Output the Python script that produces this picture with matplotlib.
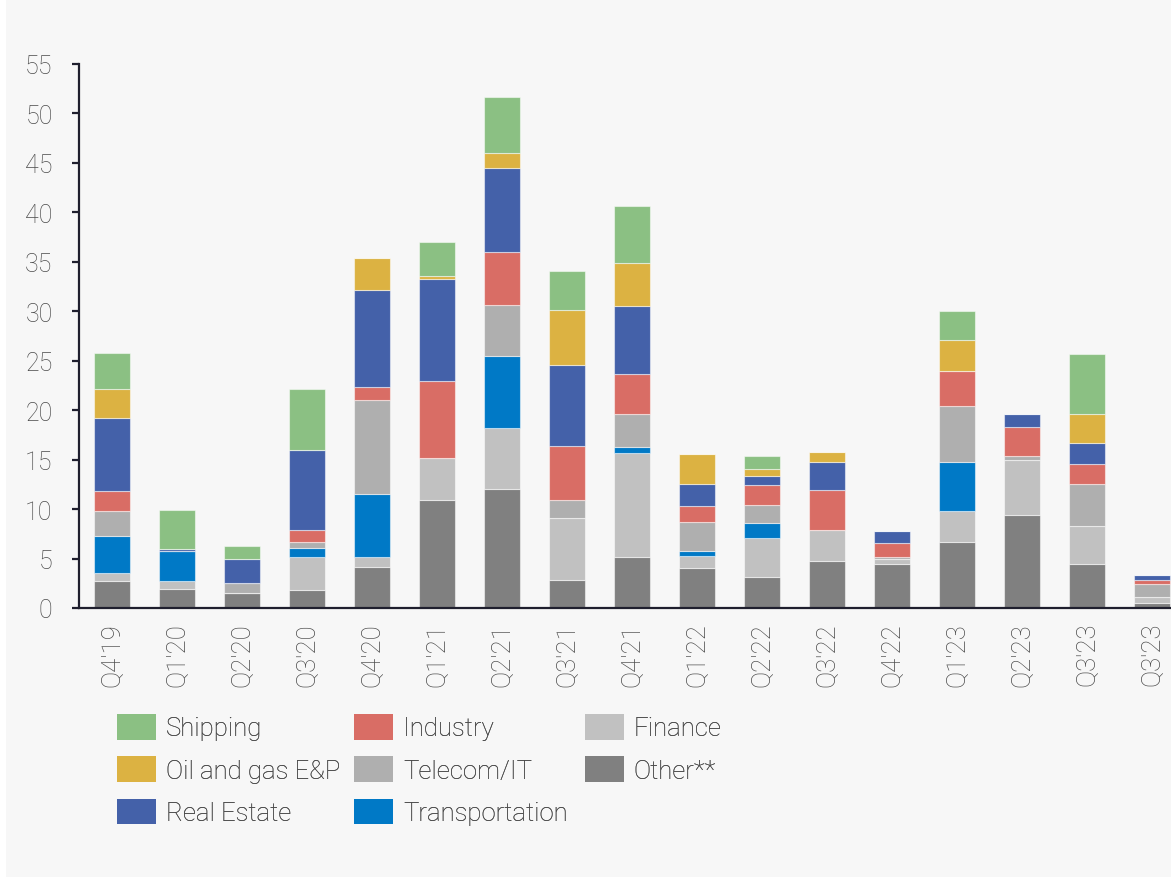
import matplotlib
matplotlib.use("Agg")
import matplotlib.pyplot as plt
from matplotlib.patches import Patch, Rectangle
import numpy as np

# ------------------------------------------------------------
# DATOS (aproximados)
# ------------------------------------------------------------
trimestres = ["Q4'19", "Q1'20", "Q2'20", "Q3'20", "Q4'20", "Q1'21", "Q2'21", "Q3'21",
              "Q4'21", "Q1'22", "Q2'22", "Q3'22", "Q4'22", "Q1'23", "Q2'23", "Q3'23", "Q3'23"]

other          = [2.70, 1.92, 1.49, 1.82, 4.12, 10.91, 12.03, 2.79, 5.16, 4.08, 3.17, 4.78, 4.42, 6.67, 9.37, 4.45, 0.54]
finance        = [0.81, 0.84, 0.00, 3.37, 1.01, 4.22, 6.16, 6.28, 10.52, 1.18, 3.88, 3.11, 0.53, 3.14, 5.59, 3.84, 0.54]
transportation = [3.77, 2.97, 0.00, 0.91, 6.38, 0.00, 7.32, 0.00, 0.60, 0.50, 1.54, 0.00, 0.00, 4.98, 0.00, 0.00, 0.00]
telecom        = [2.53, 0.00, 1.01, 0.54, 9.50, 0.00, 5.13, 1.84, 3.34, 2.97, 1.82, 0.00, 0.21, 5.63, 0.41, 4.25, 1.35]
industry       = [1.99, 0.00, 0.00, 1.25, 1.38, 7.80, 5.36, 5.44, 4.04, 1.63, 2.03, 4.01, 1.41, 3.51, 2.90, 2.02, 0.37]
real_estate    = [7.44, 0.24, 2.45, 8.11, 9.77, 10.35, 8.53, 8.25, 6.84, 2.20, 0.91, 2.89, 1.19, 0.00, 1.35, 2.09, 0.51]
oil_gas        = [2.90, 0.00, 0.00, 0.00, 3.21, 0.31, 1.47, 5.50, 4.43, 2.97, 0.74, 0.95, 0.00, 3.14, 0.00, 2.97, 0.00]
shipping       = [3.61, 3.97, 1.29, 6.14, 0.00, 3.41, 5.68, 3.95, 5.67, 0.00, 1.25, 0.00, 0.00, 2.93, 0.00, 6.03, 0.00]

# orden de apilado (de abajo hacia arriba)
series = [
    ("Other**", other, "#808080"),
    ("Finance", finance, "#c1c1c1"),
    ("Transportation", transportation, "#0079c6"),
    ("Telecom/IT", telecom, "#afafaf"),
    ("Industry", industry, "#d96d65"),
    ("Real Estate", real_estate, "#4461a9"),
    ("Oil and gas E&P", oil_gas, "#dcb242"),
    ("Shipping", shipping, "#8bc083"),
]

# ------------------------------------------------------------
# ESTILO
# ------------------------------------------------------------
plt.rcParams['font.family'] = ['Roboto', 'DejaVu Sans']
plt.rcParams['font.weight'] = 'light'
color_texto = "#4a4a4a"

W, H = 1171, 878
fig = plt.figure(figsize=(W / 100, H / 100), dpi=100, facecolor="white")
# panel de fondo gris claro
fig.patches.append(Rectangle((6 / W, 0), 1 - 6 / W, 1, transform=fig.transFigure,
                             facecolor="#f7f7f7", edgecolor="none", zorder=-10))

ax = fig.add_axes([79 / W, 1 - 609 / H, (W - 79) / W, (609 - 65) / H])
ax.set_facecolor("none")

x = np.arange(len(trimestres))
base = np.zeros(len(trimestres))
for nombre, valores, color in series:
    valores = np.array(valores)
    ax.bar(x, valores, bottom=base, width=0.55, color=color,
           edgecolor=(1, 1, 1, 0.5), linewidth=0.8, label=nombre)
    base = base + valores

ax.set_ylim(0, 55)
ax.set_yticks(np.arange(0, 56, 5))
ax.set_xlim(-0.51, 16.29)
ax.set_xticks(x)
ax.set_xticklabels(trimestres, rotation=90, va="top", ha="center")

for s in ["top", "right"]:
    ax.spines[s].set_visible(False)
ax.spines["left"].set_color("#1f1f2e")
ax.spines["bottom"].set_color("#1f1f2e")
ax.spines["left"].set_linewidth(1.6)
ax.spines["bottom"].set_linewidth(1.6)

ax.tick_params(axis="y", length=5, width=1.6, color="#1f1f2e", pad=14,
               labelsize=18, labelcolor=color_texto)
ax.tick_params(axis="x", length=0, pad=10, labelsize=18.5, labelcolor=color_texto)

# ------------------------------------------------------------
# LEYENDA (tres columnas colocadas a mano)
# ------------------------------------------------------------
colores = {n: c for n, v, c in series}
columnas = [
    (["Shipping", "Oil and gas E&P", "Real Estate"], 117),
    (["Industry", "Telecom/IT", "Transportation"], 354),
    (["Finance", "Other**"], 585),
]
for nombres, xpix in columnas:
    handles = [Patch(facecolor=colores[n], edgecolor="none") for n in nombres]
    leg = fig.legend(handles, nombres, loc="upper left",
                     bbox_to_anchor=(xpix / W, 1 - 715 / H),
                     frameon=False, fontsize=18.5, handlelength=1.5,
                     handleheight=1.15, handletextpad=0.4, labelspacing=0.62,
                     borderpad=0, borderaxespad=0)
    for t in leg.get_texts():
        t.set_color(color_texto)
    fig.add_artist(leg)

fig.savefig("out.png", dpi=100, facecolor=fig.get_facecolor())
